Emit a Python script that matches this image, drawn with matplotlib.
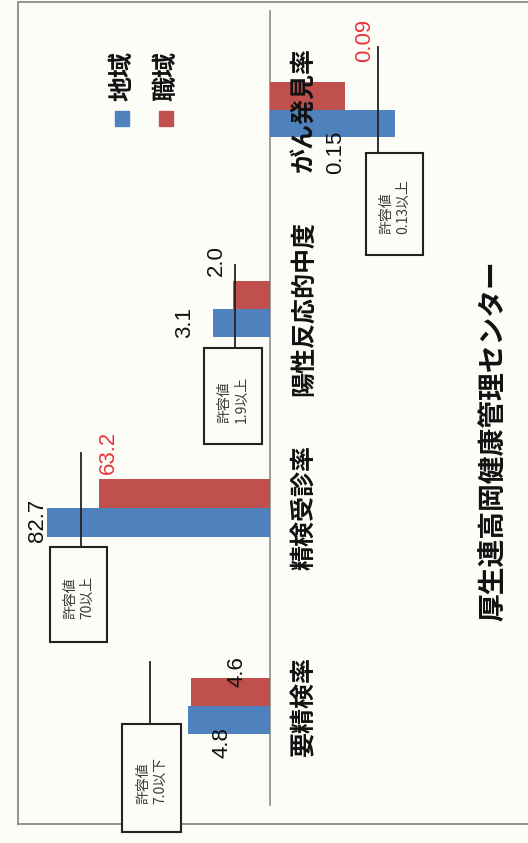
import matplotlib
matplotlib.use("Agg")
import matplotlib.pyplot as plt
from matplotlib.patches import Rectangle
from matplotlib.transforms import blended_transform_factory

plt.rcParams['font.family'] = ['Noto Sans CJK JP', 'DejaVu Sans']

# data
categories = ['要精検率', '精検受診率', '陽性反応的中度', 'がん発見率']
region_vals = [4.8, 82.7, 3.1, 0.15]     # 地域
work_vals = [4.6, 63.2, 2.0, 0.09]       # 職域
limit_vals = [7.0, 70, 1.9, 0.13]
limit_texts = ['7.0以下', '70以上', '1.9以上', '0.13以上']
series_names = ['地域', '職域']
title = '厚生連高岡健康管理センター'

BLUE = '#4f81bd'
RED = '#c0504d'
W, H = 528, 843
BASE_X = 270  # baseline in pixels

# layout per category (pixels, picture is rotated 90 deg)
px_per_unit = [17.1, 2.7, 18.5, 830]
direction = [-1, -1, -1, 1]
bar_rows = [(678, 734), (479, 537), (281, 337), (82, 137)]
line_rows = [(662, 724), (453, 547), (265, 348), (47, 153)]
boxes = [(122, 724, 181, 832), (50, 547, 107, 642), (204, 348, 262, 444), (366, 153, 423, 255)]
work_lbl_pos = [(237, 672), (108, 452), (216, 261), (365, 40)]
region_lbl_pos = [(222, 743), (38, 520), (185, 323), (336, 152)]
work_lbl_color = ['#111111', '#e8343f', '#111111', '#e8343f']

fig = plt.figure(figsize=(W / 100, H / 100), dpi=100)
fig.patch.set_facecolor('#fdfdf8')

bg = fig.add_axes([0, 0, 1, 1], zorder=0)
bg.set_xlim(0, W)
bg.set_ylim(H, 0)
bg.axis('off')
bg.patch.set_alpha(0)

# outer frame of the scanned sheet
bg.plot([18, 18], [2, 824], color='#8a8a8a', lw=1.3)
bg.plot([18, W], [2, 2], color='#8a8a8a', lw=1.3)
bg.plot([18, W], [824, 824], color='#8a8a8a', lw=1.3)
# baseline
bg.plot([BASE_X, BASE_X], [11, 805], color='#8a8a8a', lw=1.2)


def ftext(x, y, s, **kw):
    fig.text(x / W, 1 - y / H, s, rotation=90, ha='center', va='center', **kw)


for i, cat in enumerate(categories):
    top, bot = bar_rows[i]
    k = px_per_unit[i]
    d = direction[i]
    ax = fig.add_axes([0, 1 - bot / H, 1, (bot - top) / H], zorder=1)
    ax.patch.set_alpha(0)
    ax.axis('off')
    ax.set_xlim(d * (0 - BASE_X) / k, d * (W - BASE_X) / k)
    ax.set_ylim(0, 2)
    ax.barh([1.5], [work_vals[i]], height=1, color=RED)
    ax.barh([0.5], [region_vals[i]], height=1, color=BLUE)

    # 許容値 line
    tr = blended_transform_factory(ax.transData, bg.transData)
    y0, y1 = line_rows[i]
    ax.plot([limit_vals[i], limit_vals[i]], [y0, y1], transform=tr,
            color='#222222', lw=1.3, clip_on=False)

    bx0, by0, bx1, by1 = boxes[i]
    bg.add_patch(Rectangle((bx0, by0), bx1 - bx0, by1 - by0, fill=True,
                           facecolor='#fdfdf8', edgecolor='#222222', lw=1.5, zorder=3))
    ftext((bx0 + bx1) / 2, (by0 + by1) / 2 + 3, '許容値\n' + limit_texts[i],
          fontsize=10, multialignment='left', linespacing=1.25, color='#3a3a3a', zorder=4)

    # value labels
    x, y = work_lbl_pos[i]
    ftext(x, y, f'{work_vals[i]}', fontsize=16, color=work_lbl_color[i],
          family=['Liberation Sans', 'DejaVu Sans'], zorder=5)
    x, y = region_lbl_pos[i]
    ftext(x, y, f'{region_vals[i]}', fontsize=16, color='#111111',
          family=['Liberation Sans', 'DejaVu Sans'], zorder=5)

    # category label
    ftext(304, (top + bot) / 2, cat, fontsize=18, fontweight='bold', color='#111111', zorder=5)

# legend
for (sx, name, col) in [(122, series_names[0], BLUE), (166, series_names[1], RED)]:
    bg.add_patch(Rectangle((sx - 7, 111), 14, 15, color=col, zorder=3))
    ftext(sx, 76, name, fontsize=18, fontweight='bold', color='#111111')

# title
ftext(494, 441, title, fontsize=20, fontweight='bold', color='#111111')

fig.savefig('out.png', dpi=100, facecolor=fig.get_facecolor())
